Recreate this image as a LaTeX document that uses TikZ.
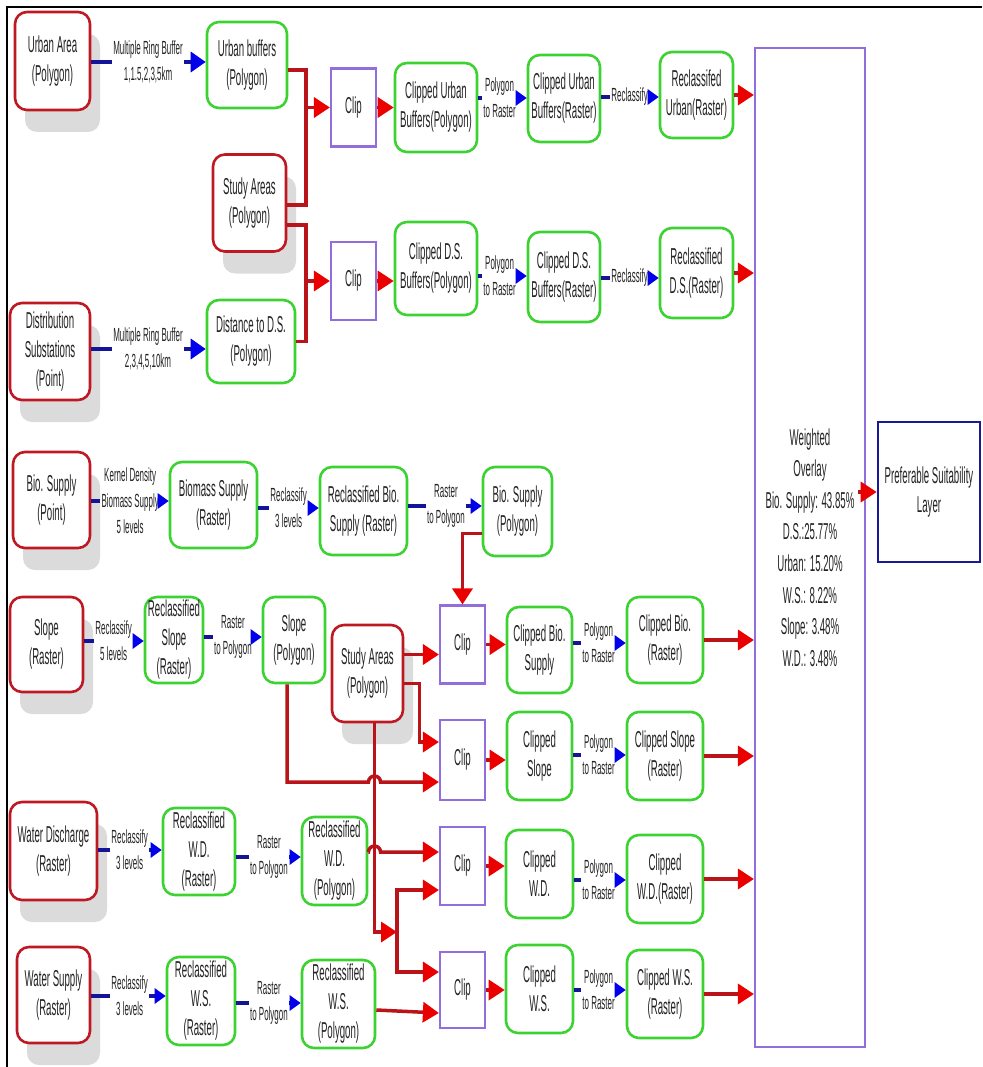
\documentclass[tikz,border=0pt]{standalone}
\usepackage{fontspec}
\setmainfont{Liberation Sans}[FakeStretch=0.42]
\usetikzlibrary{arrows.meta,shadows}
\definecolor{boxred}{RGB}{190,25,35}
\definecolor{boxgreen}{RGB}{60,210,50}
\definecolor{clippurple}{RGB}{145,110,220}
\definecolor{navyblue}{RGB}{25,25,150}
\definecolor{lnred}{RGB}{185,20,25}
\definecolor{arrred}{RGB}{235,0,0}
\definecolor{lnblue}{RGB}{20,20,150}
\definecolor{arrblue}{RGB}{0,0,235}
\definecolor{txtgray}{RGB}{35,35,35}
\newcommand{\bxfont}{\fontsize{23}{29}\selectfont}
\newcommand{\lbfont}{\fontsize{19}{26}\selectfont}

\begin{document}
\begin{tikzpicture}[x=1pt,y=-1pt,
  sz/.style 2 args={minimum width=#1, minimum height=#2},
  rbox/.style={draw=boxred, line width=2.6pt, rounded corners=12pt, fill=white, text=txtgray, align=center, inner sep=1pt, font=\bxfont, drop shadow={shadow xshift=10pt, shadow yshift=-22pt, fill=black!14, opacity=1}},
  gbox/.style={draw=boxgreen, line width=2.6pt, rounded corners=12pt, fill=white, text=txtgray, align=center, inner sep=1pt, font=\bxfont},
  clipbox/.style={draw=clippurple, line width=2.2pt, fill=white, text=txtgray, font=\bxfont, minimum width=45, minimum height=78},
  lbl/.style={fill=white, text=txtgray, align=center, inner sep=1pt, font=\lbfont, anchor=east},
  bluearr/.style={draw=lnblue, line width=3.5pt, -{Triangle[length=11pt,width=15pt,color=arrblue]}},
  bigtip/.style={-{Triangle[length=15pt,width=20pt,color=arrblue]}},
  redln/.style={draw=lnred, line width=3.5pt},
  redarr/.style={redln, -{Triangle[length=16pt,width=20pt,color=arrred]}}]
\useasboundingbox (0,0) rectangle (982,1067);
\draw[line width=2.5pt] (982,7) -- (7,7) -- (7,1067);

\node[rbox, sz={75}{98}] (ua) at (52.5,61) {Urban Area\\(Polygon)};
\node[gbox, sz={80}{86}] (ubuf) at (247,65) {Urban buffers\\(Polygon)};
\node[rbox, sz={73}{97}] (sa1) at (249.5,203) {Study Areas\\(Polygon)};
\node[rbox, sz={80}{97}] (ds) at (50,351.5) {Distribution\\Substations\\(Point)};
\node[gbox, sz={88}{83}] (dds) at (251,341.5) {Distance to D.S.\\(Polygon)};
\node[clipbox] (clip1) at (353.5,107.5) {Clip};
\node[clipbox] (clip2) at (353.5,281) {Clip};
\node[gbox, sz={82}{89}] (cub) at (436,107.5) {Clipped Urban\\Buffers(Polygon)};
\node[gbox, sz={72}{87}] (cubr) at (564,98.5) {Clipped Urban\\Buffers(Raster)};
\node[gbox, sz={73}{86}] (ru) at (696.5,95) {Reclassifed\\Urban(Raster)};
\node[gbox, sz={82}{93}] (cds) at (436,268.5) {Clipped D.S.\\Buffers(Polygon)};
\node[gbox, sz={72}{90}] (cdsr) at (564,277) {Clipped D.S.\\Buffers(Raster)};
\node[gbox, sz={73}{90}] (rds) at (696.5,273) {Reclassified\\D.S.(Raster)};

\node[rbox, sz={77}{96}] (bs) at (51.5,500) {Bio. Supply\\(Point)};
\node[gbox, sz={87}{86}] (bms) at (213.5,505) {Biomass Supply\\(Raster)};
\node[gbox, sz={87}{88}] (rbs) at (363.5,511) {Reclassified Bio.\\Supply (Raster)};
\node[gbox, sz={69}{89}] (bsp) at (517.5,511.5) {Bio. Supply\\(Polygon)};

\node[rbox, sz={73}{95}] (sl) at (46.5,644.5) {Slope\\(Raster)};
\node[gbox, sz={58}{86}] (rsl) at (174,640) {Reclassified\\Slope\\(Raster)};
\node[gbox, sz={62}{86}] (slp) at (294,640) {Slope\\(Polygon)};
\node[rbox, sz={71}{97}] (sa2) at (367.5,673.5) {Study Areas\\(Polygon)};
\node[clipbox] (clip3) at (462.5,644.5) {Clip};
\node[clipbox, minimum height=80] (clip4) at (462.5,760) {Clip};
\node[gbox, sz={65}{86}] (cbs) at (539.5,650) {Clipped Bio.\\Supply};
\node[gbox, sz={76}{86}] (cbr) at (665,640) {Clipped Bio.\\(Raster)};
\node[gbox, sz={65}{88}] (csl) at (539.5,756) {Clipped\\Slope};
\node[gbox, sz={76}{88}] (cslr) at (665,756) {Clipped Slope\\(Raster)};

\node[rbox, sz={87}{98}] (wd) at (53.5,851) {Water Discharge\\(Raster)};
\node[gbox, sz={72}{87}] (rwd) at (199,851.5) {Reclassified\\W.D.\\(Raster)};
\node[gbox, sz={65}{88}] (rwdp) at (334.5,861) {Reclassified\\W.D.\\(Polygon)};
\node[clipbox] (clip5) at (462.5,866) {Clip};
\node[gbox, sz={67}{88}] (cwd) at (539.5,874) {Clipped\\W.D.};
\node[gbox, sz={76}{88}] (cwdr) at (665,879) {Clipped\\W.D.(Raster)};

\node[rbox, sz={73}{96}] (ws) at (53.5,995) {Water Supply\\(Raster)};
\node[gbox, sz={68}{88}] (rws) at (201,1001) {Reclassified\\W.S.\\(Raster)};
\node[gbox, sz={73}{88}] (rwsp) at (338.5,1004) {Reclassified\\W.S.\\(Polygon)};
\node[clipbox, minimum height=76] (clip6) at (462.5,990) {Clip};
\node[gbox, sz={67}{88}] (cws) at (539.5,989) {Clipped\\W.S.};
\node[gbox, sz={76}{88}] (cwsr) at (665,994) {Clipped W.S.\\(Raster)};

\node[draw=clippurple, line width=2.2pt, sz={110}{999}, text=txtgray, align=center, font=\fontsize{23}{31.6}\selectfont] (wo) at (810,547.5) {Weighted\\Overlay\\Bio. Supply: 43.85\%\\D.S.:25.77\%\\Urban: 15.20\%\\W.S.: 8.22\%\\Slope: 3.48\%\\W.D.: 3.48\%};
\node[draw=navyblue, line width=2.6pt, sz={102}{140}, text=txtgray, align=center, font=\bxfont] (psl) at (929,492) {Preferable Suitability\\Layer};

\node[lbl] (lua) at (184,62) {Multiple Ring Buffer\\1,1.5,2,3,5km};
\node[lbl] (lds) at (184,349) {Multiple Ring Buffer\\2,3,4,5,10km};
\node[lbl] (lcub) at (517,98) {Polygon\\to Raster};
\node[lbl] (lcubr) at (649,97) {Reclassify};
\node[lbl] (lcds) at (517,276) {Polygon\\to Raster};
\node[lbl] (lcdsr) at (649,278) {Reclassify};
\node[lbl] (lbs) at (160,501) {Kernel Density\\Biomass Supply\\5 levels};
\node[lbl] (lbms) at (308,508) {Reclassify\\3 levels};
\node[lbl] (lrbs) at (466,506) {Raster\\to Polygon};
\node[lbl] (lsl) at (133,641) {Reclassify\\5 levels};
\node[lbl] (lrsl) at (253,637) {Raster\\to Polygon};
\node[lbl] (lcbs) at (616,643) {Polygon\\to Raster};
\node[lbl] (lcsl) at (616,755) {Polygon\\to Raster};
\node[lbl] (lwd) at (149,850) {Reclassify\\3 levels};
\node[lbl] (lrwd) at (289,857) {Raster\\to Polygon};
\node[lbl] (lcwd) at (616,880) {Polygon\\to Raster};
\node[lbl] (lws) at (149,996) {Reclassify\\3 levels};
\node[lbl] (lrws) at (289,1003) {Raster\\to Polygon};
\node[lbl] (lcws) at (616,990) {Polygon\\to Raster};

\draw[bluearr, bigtip] (ua.east |- lua) -- (lua.west) (lua.east) -- (lua -| ubuf.west);
\draw[bluearr, bigtip] (ds.east |- lds) -- (lds.west) (lds.east) -- (lds -| dds.west);
\draw[bluearr] (cub.east |- lcub) -- (lcub.west) (lcub.east) -- (lcub -| cubr.west);
\draw[bluearr] (cubr.east |- lcubr) -- (lcubr.west) (lcubr.east) -- (lcubr -| ru.west);
\draw[bluearr] (cds.east |- lcds) -- (lcds.west) (lcds.east) -- (lcds -| cdsr.west);
\draw[bluearr] (cdsr.east |- lcdsr) -- (lcdsr.west) (lcdsr.east) -- (lcdsr -| rds.west);
\draw[bluearr] (bs.east |- lbs) -- (lbs.west) (lbs.east) -- (lbs -| bms.west);
\draw[bluearr] (bms.east |- lbms) -- (lbms.west) (lbms.east) -- (lbms -| rbs.west);
\draw[bluearr] (rbs.east |- lrbs) -- (lrbs.west) (lrbs.east) -- (lrbs -| bsp.west);
\draw[bluearr] (sl.east |- lsl) -- (lsl.west) (lsl.east) -- (lsl -| rsl.west);
\draw[bluearr] (rsl.east |- lrsl) -- (lrsl.west) (lrsl.east) -- (lrsl -| slp.west);
\draw[bluearr] (cbs.east |- lcbs) -- (lcbs.west) (lcbs.east) -- (lcbs -| cbr.west);
\draw[bluearr] (csl.east |- lcsl) -- (lcsl.west) (lcsl.east) -- (lcsl -| cslr.west);
\draw[bluearr] (wd.east |- lwd) -- (lwd.west) (lwd.east) -- (lwd -| rwd.west);
\draw[bluearr] (rwd.east |- lrwd) -- (lrwd.west) (lrwd.east) -- (lrwd -| rwdp.west);
\draw[bluearr] (cwd.east |- lcwd) -- (lcwd.west) (lcwd.east) -- (lcwd -| cwdr.west);
\draw[bluearr] (ws.east |- lws) -- (lws.west) (lws.east) -- (lws -| rws.west);
\draw[bluearr] (rws.east |- lrws) -- (lrws.west) (lrws.east) -- (lrws -| rwsp.west);
\draw[bluearr] (cws.east |- lcws) -- (lcws.west) (lcws.east) -- (lcws -| cwsr.west);

\coordinate (j1) at ([xshift=-24pt]clip1.west);
\coordinate (j2) at ([xshift=-24pt]clip2.west);
\coordinate (c3in) at ([yshift=-10pt]clip3.west);
\coordinate (c4a) at ([yshift=18pt]clip4.west);
\coordinate (c4b) at ([yshift=-22pt]clip4.west);
\coordinate (c5a) at ([yshift=14pt]clip5.west);
\coordinate (c5b) at ([yshift=-24pt]clip5.west);
\coordinate (c6a) at ([yshift=18pt]clip6.west);
\coordinate (c6b) at ([yshift=-23pt]clip6.west);
\coordinate (vx) at ([xshift=7pt]sa2.south);
\coordinate (hop1) at (vx |- c4b);
\coordinate (hop2) at (vx |- c5a);
\coordinate (fork) at (397,932);
\coordinate (woout) at (wo.east |- psl);

\draw[redln] ([yshift=-5pt]ubuf.east) -| (j1) |- ([yshift=-2pt]sa1.east);
\draw[redarr] (j1) -- (clip1.west);
\draw[redln] ([yshift=-22pt]sa1.east) -| (j2) |- (dds.east);
\draw[redarr] (j2) -- (clip2.west);
\draw[redarr] ([yshift=-22pt]bsp.west) -| (clip3.north);
\draw[redarr] (sa2.east |- c3in) -- (c3in);
\draw[redarr] ([yshift=-10pt]sa2.east) -- ++(15,0) |- (c4a);
\draw[redarr] ([xshift=-7pt]slp.south) |- ([xshift=-6pt]hop1) arc[start angle=180, end angle=0, radius=6pt] -- (c4b);
\draw[redarr] (rwdp.east |- c5a) -- ([xshift=-6pt]hop2) arc[start angle=180, end angle=0, radius=6pt] -- (c5a);
\draw[redarr] (vx) |- (fork);
\draw[redarr] (fork) |- (c5b);
\draw[redarr] (fork) |- (c6a);
\draw[redarr] ([yshift=-6pt]rwsp.east) -- (c6b);

\draw[redarr] (clip1.east) -- (clip1.east -| cub.west);
\draw[redarr] (clip2.east) -- (clip2.east -| cds.west);
\draw[redarr] (clip3.east) -- (clip3.east -| cbs.west);
\draw[redarr] (clip4.east) -- (clip4.east -| csl.west);
\draw[redarr] (clip5.east) -- (clip5.east -| cwd.west);
\draw[redarr] (clip6.east) -- (clip6.east -| cws.west);

\draw[redarr] (ru.east) -- (ru.east -| wo.west);
\draw[redarr] (rds.east) -- (rds.east -| wo.west);
\draw[redarr] (cbr.east) -- (cbr.east -| wo.west);
\draw[redarr] (cslr.east) -- (cslr.east -| wo.west);
\draw[redarr] (cwdr.east) -- (cwdr.east -| wo.west);
\draw[redarr] (cwsr.east) -- (cwsr.east -| wo.west);
\draw[redarr] ([xshift=-8pt]woout) -- (psl.west);
\end{tikzpicture}
\end{document}
